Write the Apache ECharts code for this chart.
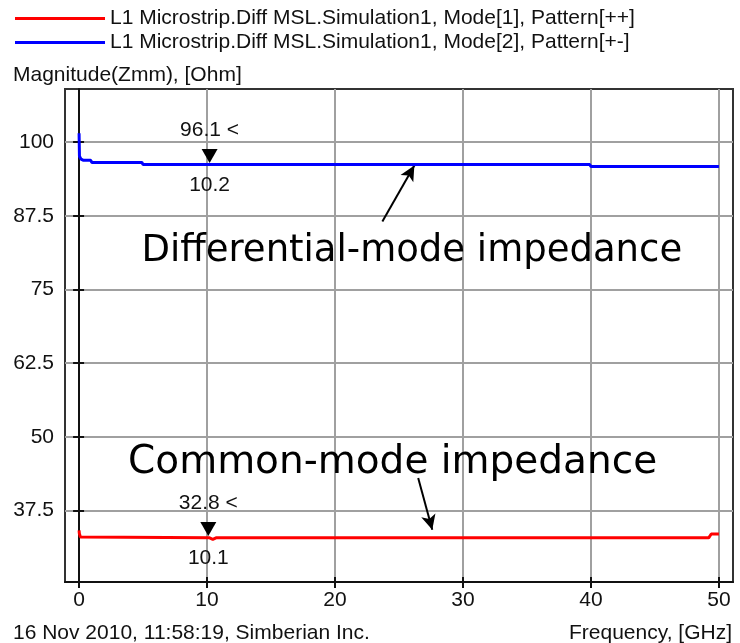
<!DOCTYPE html>
<html><head><meta charset="utf-8">
<script src="https://cdn.jsdelivr.net/npm/echarts@6/dist/echarts.min.js"></script>
<style>html,body{margin:0;padding:0;background:#fff}#c{width:740px;height:643px}</style>
</head><body><div id="c"></div>
<script>
const seriesNames = ['L1 Microstrip.Diff MSL.Simulation1, Mode[1], Pattern[++]', 'L1 Microstrip.Diff MSL.Simulation1, Mode[2], Pattern[+-]'];
const seriesColors = ['#ff0000', '#0000ff'];
const freqCommon = [0, 0.02, 0.1, 0.25, 10.2, 10.45, 10.7, 49.2, 49.4, 50];
const zCommon = [34.1, 33.6, 33.0, 32.85, 32.85, 32.6, 32.85, 32.85, 33.5, 33.5];
const freqDiff = [0, 0.03, 0.15, 0.35, 0.9, 1.0, 4.9, 5.0, 39.9, 40, 50];
const zDiff = [101.5, 97.6, 97.1, 96.9, 96.9, 96.55, 96.55, 96.2, 96.2, 95.85, 95.85];
const xTicks = [0, 10, 20, 30, 40, 50];
const yTicks = [37.5, 50, 62.5, 75, 87.5, 100];
const xRange = [-1.1, 51.1];
const yRange = [25.35, 109];
const markerFreq = [10.1, 10.2];
const markerZ = [32.8, 96.1];
const annotText = ['Common-mode impedance', 'Differential-mode impedance'];
const annotSize = [39, 37];
const annotPos = [[24.5, 45.6], [26.0, 81.5]];
const arrowFrom = [[26.5, 43.0], [23.7, 86.5]];
const arrowTo = [[27.6, 34.2], [26.2, 96.0]];
const yTitle = 'Magnitude(Zmm), [Ohm]';
const xTitle = 'Frequency, [GHz]';
const footer = '16 Nov 2010, 11:58:19, Simberian Inc.';

const FONT = 'Liberation Sans, Arial, sans-serif';
const BIG = 'DejaVu Sans, Verdana, sans-serif';
const FS = 21;

function pairs(xs, ys) { return xs.map((x, i) => [x, ys[i]]); }
const allData = [pairs(freqCommon, zCommon), pairs(freqDiff, zDiff)];

function markerPoints(i) {
  const c = [markerFreq[i], markerZ[i]];
  return [
    { coord: c, symbol: 'triangle', symbolRotate: 180, symbolSize: [16, 14], symbolOffset: [0, -9],
      itemStyle: { color: '#000' }, label: { show: false } },
    { coord: c, symbol: 'circle', symbolSize: 1, itemStyle: { color: 'rgba(0,0,0,0)' },
      label: { show: true, position: 'inside', offset: [0, -35], formatter: markerZ[i] + ' <',
        color: '#111', fontSize: FS, fontFamily: FONT } },
    { coord: c, symbol: 'circle', symbolSize: 1, itemStyle: { color: 'rgba(0,0,0,0)' },
      label: { show: true, position: 'inside', offset: [0, 20], formatter: String(markerFreq[i]),
        color: '#111', fontSize: FS, fontFamily: FONT } },
    { coord: annotPos[i], symbol: 'circle', symbolSize: 1, itemStyle: { color: 'rgba(0,0,0,0)' },
      label: { show: true, position: 'inside', formatter: annotText[i],
        color: '#000', fontSize: annotSize[i], fontFamily: BIG } }
  ];
}

const series = allData.map((d, i) => ({
  name: seriesNames[i], type: 'line', data: d, showSymbol: false, symbol: 'none',
  xAxisIndex: 0, yAxisIndex: 0,
  lineStyle: { color: seriesColors[i], width: 3 }, itemStyle: { color: seriesColors[i] },
  animation: false, z: 5,
  markPoint: { silent: true, animation: false, data: markerPoints(i) },
  markLine: { silent: true, animation: false, symbol: ['none', 'arrow'], symbolSize: 14,
    label: { show: false }, lineStyle: { color: '#000', width: 2, type: 'solid' },
    data: [[{ coord: arrowFrom[i], symbol: 'none' },
            { coord: arrowTo[i], symbol: 'arrow', symbolSize: [11, 15] }]] }
}));

const chart = echarts.init(document.getElementById('c'), null, { renderer: 'canvas' });
chart.setOption({
  backgroundColor: '#fff',
  animation: false,
  title: [
    { text: yTitle, left: 8, top: 60, textStyle: { fontSize: FS, fontWeight: 'normal', color: '#111', fontFamily: FONT } },
    { text: footer, left: 8, top: 618, textStyle: { fontSize: FS, fontWeight: 'normal', color: '#111', fontFamily: FONT } },
    { text: xTitle, right: 3, top: 618, textStyle: { fontSize: FS, fontWeight: 'normal', color: '#111', fontFamily: FONT } }
  ],
  legend: {
    orient: 'vertical', left: 10, top: 3, itemGap: 3, itemWidth: 90, itemHeight: 3, icon: 'rect',
    data: seriesNames, selectedMode: false,
    textStyle: { fontSize: FS, color: '#111', fontFamily: FONT }
  },
  grid: { left: 65, top: 89, right: 7, bottom: 61, containLabel: false, outerBoundsMode: 'none',
    show: true, borderColor: '#333', borderWidth: 2, backgroundColor: '#fff' },
  xAxis: [
    { type: 'value', min: xRange[0], max: xRange[1], position: 'bottom',
      axisLine: { show: true, lineStyle: { color: '#111', width: 2 } },
      axisTick: { show: true, length: 6, customValues: xTicks, lineStyle: { color: '#111', width: 2 } },
      axisLabel: { customValues: xTicks, margin: 8, fontSize: FS, color: '#111', fontFamily: FONT,
        formatter: v => (xTicks.indexOf(v) >= 0 ? String(v) : '') },
      splitLine: { show: true, lineStyle: { color: '#a0a0a0', width: 2 } } },
    { type: 'value', min: xRange[0], max: xRange[1], position: 'bottom',
      axisLine: { show: false }, axisLabel: { show: false }, splitLine: { show: false },
      axisTick: { show: true, inside: true, length: 5, customValues: xTicks, lineStyle: { color: '#111', width: 2 } } }
  ],
  yAxis: [
    { type: 'value', min: yRange[0], max: yRange[1], position: 'left',
      axisLine: { show: true, lineStyle: { color: '#111', width: 2 } },
      axisTick: { show: true, length: 6, customValues: yTicks, lineStyle: { color: '#111', width: 2 } },
      axisLabel: { customValues: yTicks, margin: 11, fontSize: FS, color: '#111', fontFamily: FONT,
        formatter: v => (yTicks.indexOf(v) >= 0 ? String(v) : '') },
      splitLine: { show: true, lineStyle: { color: '#a0a0a0', width: 2 } } },
    { type: 'value', min: yRange[0], max: yRange[1], position: 'left',
      axisLine: { show: false }, axisLabel: { show: false }, splitLine: { show: false },
      axisTick: { show: true, inside: true, length: 5, customValues: yTicks, lineStyle: { color: '#111', width: 2 } } }
  ],
  series: series
});
</script></body></html>
